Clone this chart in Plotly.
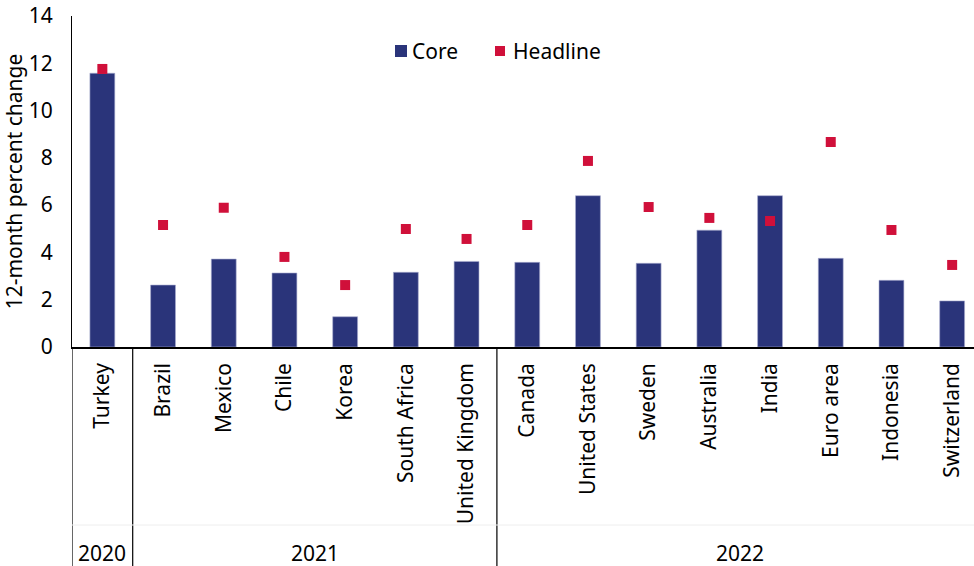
import plotly.graph_objects as go

countries = ["Turkey", "Brazil", "Mexico", "Chile", "Korea", "South Africa", "United Kingdom",
             "Canada", "United States", "Sweden", "Australia", "India", "Euro area", "Indonesia", "Switzerland"]
core = [11.58, 2.62, 3.72, 3.13, 1.28, 3.16, 3.62, 3.58, 6.40, 3.54, 4.94, 6.40, 3.75, 2.82, 1.95]
headline = [11.76, 5.16, 5.89, 3.81, 2.62, 4.99, 4.57, 5.16, 7.87, 5.92, 5.46, 5.33, 8.67, 4.95, 3.47]
years = ["2020", "2021", "2022"]
year_groups = [[0], [1, 2, 3, 4, 5, 6], [7, 8, 9, 10, 11, 12, 13, 14]]

FONT = "Noto Sans"
FS = 21
NAVY = "#2a347a"
RED = "#d0103a"

x = list(range(len(countries)))

fig = go.Figure()
fig.add_trace(go.Bar(x=x, y=core, name="Core", width=0.41,
                     marker=dict(color=NAVY, line=dict(color="#a9acd0", width=0.6))))
fig.add_trace(go.Scatter(x=x, y=headline, name="Headline", mode="markers",
                         marker=dict(symbol="square", size=10, color=RED)))

H_PLOT = 331
W_PLOT = 902
L = 72
T = 16
B = 219
def py(px):  # absolute pixel y -> paper y
    return (T + H_PLOT - px) / H_PLOT
def pxx(px):  # absolute pixel x -> paper x
    return (px - L) / W_PLOT

shapes = []
for xv in [-0.5, 0.5, 6.5]:
    shapes.append(dict(type="line", xref="x", yref="paper", x0=xv, x1=xv, y0=0, y1=py(566),
                       line=dict(color="black", width=1.2)))
shapes.append(dict(type="line", xref="paper", yref="paper", x0=0, x1=1, y0=py(525), y1=py(525),
                   line=dict(color="#eeeeee", width=1)))
# legend swatches
shapes.append(dict(type="rect", xref="paper", yref="paper", x0=pxx(395), x1=pxx(407),
                   y0=py(57), y1=py(45), fillcolor=NAVY, line=dict(width=0)))
shapes.append(dict(type="rect", xref="paper", yref="paper", x0=pxx(495), x1=pxx(505),
                   y0=py(56), y1=py(46), fillcolor=RED, line=dict(width=0)))

annotations = []
for yr, grp in zip(years, year_groups):
    annotations.append(dict(text=yr, xref="x", yref="paper", x=sum(grp) / len(grp), y=py(553),
                            showarrow=False, font=dict(family=FONT, size=FS, color="black"),
                            xanchor="center", yanchor="middle"))
for name, xp in [("Core", 410), ("Headline", 511)]:
    annotations.append(dict(text=name, xref="paper", yref="paper", x=pxx(xp), y=py(51),
                            showarrow=False, font=dict(family=FONT, size=FS, color="black"),
                            xanchor="left", yanchor="middle"))

fig.update_layout(
    width=974, height=566,
    margin=dict(l=L, r=0, t=T, b=B),
    plot_bgcolor="white", paper_bgcolor="white",
    font=dict(family=FONT, size=FS, color="black"),
    showlegend=False,
    xaxis=dict(range=[-0.5, 14.36], tickmode="array", tickvals=x, ticktext=countries,
               tickangle=-90, showline=True, linecolor="black", linewidth=1.5,
               showgrid=False, zeroline=False, ticks="", ticklabelstandoff=6,
               tickfont=dict(family=FONT, size=FS, color="black")),
    yaxis=dict(range=[0, 14], tickvals=[0, 2, 4, 6, 8, 10, 12, 14], showline=True,
               linecolor="black", linewidth=1.2, showgrid=False, zeroline=False, ticks="",
               ticklabelstandoff=14,
               title=dict(text="12-month percent change", standoff=6,
                          font=dict(family=FONT, size=FS, color="black")),
               tickfont=dict(family=FONT, size=FS, color="black")),
    shapes=shapes, annotations=annotations, bargap=0.6,
)

fig.write_html("out.html")
